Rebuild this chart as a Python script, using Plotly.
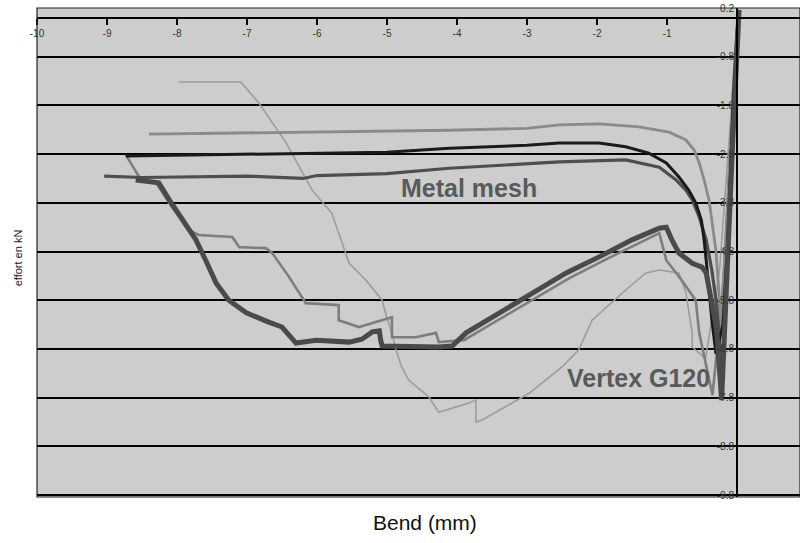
import plotly.graph_objects as go

# ---- data: bend in mm, force in kN ----
mesh_a_x = [-8.40, -7.0, -5.0, -4.11, -3.0, -2.54, -1.97, -1.40, -0.97, -0.73, -0.61, -0.54, -0.47, -0.40, -0.36, -0.30, -0.26, -0.24, -0.16, -0.08, -0.02, 0.03]
mesh_a_y = [-2.39, -2.36, -2.33, -2.31, -2.27, -2.20, -2.18, -2.24, -2.35, -2.51, -2.72, -2.98, -3.33, -3.74, -4.15, -4.80, -5.60, -6.40, -4.60, -2.40, -0.60, 0.16]

mesh_b_x = [-8.73, -7.0, -5.0, -4.11, -3.0, -2.54, -1.97, -1.59, -1.26, -1.01, -0.83, -0.69, -0.59, -0.51, -0.47, -0.44, -0.40, -0.36, -0.30, -0.20, -0.13, -0.06, 0.02]
mesh_b_y = [-2.84, -2.80, -2.76, -2.68, -2.62, -2.57, -2.57, -2.65, -2.78, -2.98, -3.27, -3.54, -3.80, -4.15, -4.56, -4.98, -5.60, -6.20, -6.90, -6.30, -4.50, -2.00, 0.10]

mesh_c_x = [-9.04, -8.5, -7.0, -6.2, -6.0, -5.0, -4.11, -3.0, -2.54, -1.59, -1.11, -0.87, -0.73, -0.64, -0.54, -0.44, -0.36, -0.30, -0.26, -0.21, -0.13, -0.05, 0.02]
mesh_c_y = [-3.25, -3.28, -3.25, -3.30, -3.24, -3.20, -3.09, -3.00, -2.96, -2.92, -3.07, -3.33, -3.54, -3.74, -4.09, -4.56, -5.18, -5.80, -6.40, -7.50, -4.80, -1.50, 0.16]

vertex_d_x = [-8.59, -8.26, -8.11, -7.93, -7.73, -7.59, -7.44, -7.26, -7.01, -6.69, -6.50, -6.30, -6.01, -5.54, -5.36, -5.21, -5.11, -5.09, -5.07, -4.26, -4.07, -3.87, -3.40, -2.93, -2.44, -1.97, -1.50, -1.11, -1.01, -0.93, -0.83, -0.64, -0.50, -0.44, -0.40, -0.36, -0.29, -0.22, -0.14, -0.06, 0.03]
vertex_d_y = [-3.33, -3.39, -3.74, -4.15, -4.56, -4.98, -5.45, -5.80, -6.06, -6.25, -6.35, -6.68, -6.62, -6.66, -6.60, -6.45, -6.43, -6.62, -6.74, -6.76, -6.74, -6.47, -6.06, -5.65, -5.24, -4.91, -4.56, -4.32, -4.30, -4.56, -4.83, -5.04, -5.12, -5.24, -5.53, -5.80, -6.40, -7.85, -5.00, -2.50, 0.16]

vertex_e_x = [-8.73, -8.54, -8.30, -8.07, -7.83, -7.69, -7.21, -7.11, -6.73, -6.64, -6.40, -6.16, -5.69, -5.69, -5.40, -5.07, -4.93, -4.93, -4.59, -4.30, -4.26, -3.90, -3.40, -2.90, -2.40, -1.90, -1.40, -1.11, -1.01, -0.79, -0.59, -0.54, -0.35, -0.20, -0.10, 0.02]
vertex_e_y = [-2.82, -3.27, -3.39, -3.89, -4.36, -4.46, -4.50, -4.71, -4.73, -4.83, -5.32, -5.86, -5.90, -6.21, -6.35, -6.21, -6.15, -6.56, -6.56, -6.47, -6.66, -6.62, -6.20, -5.78, -5.35, -4.98, -4.62, -4.42, -4.98, -5.39, -5.80, -6.47, -7.75, -5.60, -2.80, 0.10]

vertex_f_x = [-7.97, -7.09, -6.83, -6.44, -6.07, -5.79, -5.54, -5.30, -5.07, -5.00, -4.93, -4.87, -4.79, -4.69, -4.40, -4.26, -3.83, -3.73, -3.73, -3.64, -2.97, -2.50, -2.26, -2.07, -1.59, -1.30, -1.11, -0.83, -0.73, -0.64, -0.64, -0.45, -0.25, -0.10, 0.02]
vertex_f_y = [-1.32, -1.32, -1.75, -2.57, -3.54, -4.01, -5.04, -5.39, -5.80, -6.17, -6.47, -6.82, -7.17, -7.44, -7.79, -8.10, -7.91, -7.85, -8.30, -8.26, -7.71, -7.17, -6.82, -6.21, -5.59, -5.24, -5.18, -5.24, -5.65, -6.47, -6.76, -7.00, -5.20, -2.20, 0.10]

y_tick_vals = [0.2, -0.8, -1.8, -2.8, -3.8, -4.8, -5.8, -6.8, -7.8, -8.8, -9.8]
y_tick_text = ["0.2", "-0.8", "-1.8", "-2.8", "-3.8", "-4.8", "-5.8", "-6.8", "-7.8", "-8.8", "-9.8"]
x_tick_vals = [-10, -9, -8, -7, -6, -5, -4, -3, -2, -1]
x_tick_text = ["-10", "-9", "-8", "-7", "-6", "-5", "-4", "-3", "-2", "-1"]

X_RANGE = [-10, 0.9]
Y_RANGE = [-9.84, 0.2]

fig = go.Figure()

series = [
    (vertex_f_x, vertex_f_y, "#9c9c9c", 1.6),
    (vertex_e_x, vertex_e_y, "#7e7e7e", 2.6),
    (mesh_a_x, mesh_a_y, "#8a8a8a", 2.8),
    (mesh_c_x, mesh_c_y, "#4e4e4e", 3.2),
    (mesh_b_x, mesh_b_y, "#1a1a1a", 3.0),
    (vertex_d_x, vertex_d_y, "#4a4a4a", 5.0),
]
for xs, ys, col, w in series:
    fig.add_trace(go.Scatter(x=xs, y=ys, mode="lines",
                             line=dict(color=col, width=w),
                             showlegend=False, hoverinfo="skip"))

xpos_axis = (0 - Y_RANGE[0]) / (Y_RANGE[1] - Y_RANGE[0])
ypos_axis = (0 - X_RANGE[0]) / (X_RANGE[1] - X_RANGE[0])

fig.update_layout(
    width=800, height=543,
    margin=dict(l=37, r=0, t=8, b=46, autoexpand=False),
    paper_bgcolor="white",
    plot_bgcolor="#cdcdcd",
    font=dict(family="Liberation Sans, Arial, sans-serif", color="#333333"),
    xaxis=dict(range=X_RANGE, anchor="free", position=xpos_axis, side="bottom",
               automargin=False,
               showgrid=False, zeroline=False, showline=True, linecolor="black",
               linewidth=2, ticks="outside", ticklen=6, tickwidth=2, tickcolor="black",
               tickvals=x_tick_vals, ticktext=x_tick_text,
               tickfont=dict(size=10, color="#333333")),
    yaxis=dict(range=Y_RANGE, anchor="free", position=ypos_axis, side="left",
               automargin=False,
               showgrid=True, gridcolor="black", gridwidth=2, zeroline=False,
               showline=True, linecolor="black", linewidth=2, ticks="",
               tickvals=y_tick_vals, ticktext=y_tick_text,
               tickfont=dict(size=10, color="#333333")),
)

# plot border
fig.add_shape(type="rect", xref="paper", yref="paper", x0=0, x1=1, y0=0, y1=1,
              line=dict(color="#222222", width=1.2), layer="above")

fig.add_annotation(x=-3.83, y=-3.50, text="<b>Metal mesh</b>", showarrow=False,
                   font=dict(size=25, color="#5a5a5a"))
fig.add_annotation(x=-1.41, y=-7.40, text="<b>Vertex G120</b>", showarrow=False,
                   font=dict(size=25, color="#5a5a5a"))
fig.add_annotation(xref="paper", yref="paper", x=(425 - 37) / 763, y=-0.052,
                   xanchor="center", yanchor="middle", text="Bend (mm)", showarrow=False,
                   font=dict(size=21, color="#111111"))
fig.add_annotation(xref="paper", yref="paper", x=-0.025, y=0.49,
                   xanchor="center", yanchor="middle",
                   text="effort en kN", textangle=-90, showarrow=False,
                   font=dict(size=11, color="#222222"))

fig.write_html("out.html", config={"displayModeBar": False},
               post_script="document.body.style.margin='0';document.body.style.padding='0';")
